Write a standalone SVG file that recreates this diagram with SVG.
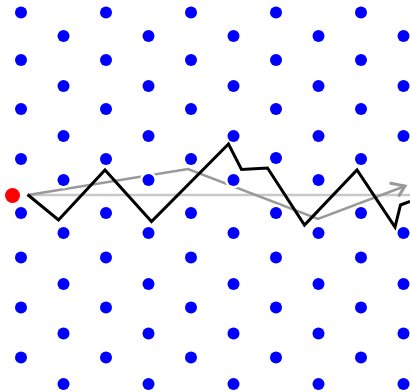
<svg xmlns="http://www.w3.org/2000/svg" width="410" height="392" viewBox="0 0 410 392">
<defs>
<style>
.dot{fill:#0000ff;stroke:#ffffff;stroke-width:5;paint-order:stroke}
.mean{fill:none;stroke:#c8c8c8;stroke-width:2.5}
.drift{fill:none;stroke:#999999;stroke-width:2.5;stroke-linejoin:miter}
.head{fill:none;stroke:#999999;stroke-width:3;stroke-linejoin:miter}
.path{fill:none;stroke:#000000;stroke-width:3;stroke-linejoin:miter}
</style>
<g id="d">
<circle class="dot" r="6" cx="0" cy="0"/>
</g>
</defs>
<rect width="410" height="392" fill="#ffffff"/>
<g id="connectors">
<path class="mean" d="M28,195 L410,195"/>
<path class="drift" d="M28,195 L188,169 L318,219 L404,186.5"/>
<path class="head" d="M389.5,183 L405,186 L398.5,196.5"/>
</g>
<g id="lattice">
<use href="#d" x="21" y="12.5"/><use href="#d" x="106" y="12.5"/><use href="#d" x="191" y="12.5"/><use href="#d" x="276" y="12.5"/><use href="#d" x="361" y="12.5"/>
<use href="#d" x="63.5" y="36"/><use href="#d" x="148.5" y="36"/><use href="#d" x="233.5" y="36"/><use href="#d" x="318.5" y="36"/><use href="#d" x="403.5" y="36"/>
<use href="#d" x="21" y="60"/><use href="#d" x="106" y="60"/><use href="#d" x="191" y="60"/><use href="#d" x="276" y="60"/><use href="#d" x="361" y="60"/>
<use href="#d" x="63.5" y="86"/><use href="#d" x="148.5" y="86"/><use href="#d" x="233.5" y="86"/><use href="#d" x="318.5" y="86"/><use href="#d" x="403.5" y="86"/>
<use href="#d" x="21" y="109"/><use href="#d" x="106" y="109"/><use href="#d" x="191" y="109"/><use href="#d" x="276" y="109"/><use href="#d" x="361" y="109"/>
<use href="#d" x="63.5" y="136"/><use href="#d" x="148.5" y="136"/><use href="#d" x="233.5" y="136"/><use href="#d" x="318.5" y="136"/><use href="#d" x="403.5" y="136"/>
<use href="#d" x="21" y="159"/><use href="#d" x="106" y="159"/><use href="#d" x="191" y="159"/><use href="#d" x="276" y="158"/><use href="#d" x="361" y="159"/>
<use href="#d" x="63.5" y="180"/><use href="#d" x="148.5" y="180"/><use href="#d" x="233.5" y="180"/><use href="#d" x="318.5" y="180"/>
<use href="#d" x="21" y="213"/><use href="#d" x="106" y="213"/><use href="#d" x="191" y="213"/><use href="#d" x="276" y="213"/><use href="#d" x="361" y="213"/>
<use href="#d" x="63.5" y="233"/><use href="#d" x="148.5" y="233"/><use href="#d" x="233.5" y="233"/><use href="#d" x="318.5" y="233"/><use href="#d" x="403.5" y="233"/>
<use href="#d" x="21" y="257.5"/><use href="#d" x="106" y="257.5"/><use href="#d" x="191" y="257.5"/><use href="#d" x="276" y="257.5"/><use href="#d" x="361" y="257.5"/>
<use href="#d" x="63.5" y="284"/><use href="#d" x="148.5" y="284"/><use href="#d" x="233.5" y="284"/><use href="#d" x="318.5" y="284"/><use href="#d" x="403.5" y="284"/>
<use href="#d" x="21" y="307.5"/><use href="#d" x="106" y="307.5"/><use href="#d" x="191" y="307.5"/><use href="#d" x="276" y="307.5"/><use href="#d" x="361" y="307.5"/>
<use href="#d" x="63.5" y="333.5"/><use href="#d" x="148.5" y="333.5"/><use href="#d" x="233.5" y="333.5"/><use href="#d" x="318.5" y="333.5"/><use href="#d" x="403.5" y="333.5"/>
<use href="#d" x="21" y="357.5"/><use href="#d" x="106" y="357.5"/><use href="#d" x="191" y="357.5"/><use href="#d" x="276" y="357.5"/><use href="#d" x="361" y="357.5"/>
<use href="#d" x="63.5" y="384"/><use href="#d" x="148.5" y="384"/><use href="#d" x="233.5" y="384"/><use href="#d" x="318.5" y="384"/><use href="#d" x="403.5" y="384"/>
</g>
<g id="trajectory">
<path class="path" d="M27.5,194.5 L58.5,220 L105,170 L151.5,221.5 L228.5,144 L241.5,169.5 L267.5,168 L304.5,225 L357,170 L395,227 L400.5,205 L410,201.5"/>
</g>
<g id="origin">
<circle cx="12.5" cy="195.5" r="7.5" fill="#ff0000"/>
</g>
</svg>
